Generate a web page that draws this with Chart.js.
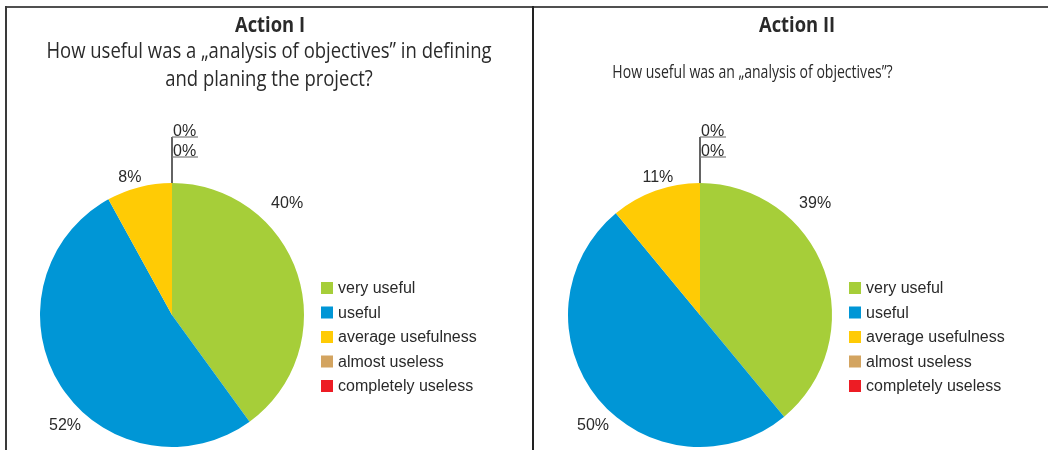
<!DOCTYPE html>
<html>
<head>
<meta charset="utf-8">
<script src="https://cdn.jsdelivr.net/npm/chart.js@4.4.1/dist/chart.umd.min.js"></script>
<style>
  html, body { margin: 0; padding: 0; background: #fff; }
  #wrap { position: relative; width: 1048px; height: 450px; overflow: hidden; }
  #wrap canvas { position: absolute; top: 0; }
  .rule { position: absolute; background: #505050; }
</style>
</head>
<body>
<div id="wrap">
  <div class="rule" style="left:5px; top:6px; width:1043px; height:2px;"></div>
  <div class="rule" style="left:5px; top:6px; width:2px; height:444px; background:#3a3a3a;"></div>
  <div class="rule" style="left:532px; top:6px; width:2px; height:444px; background:#222;"></div>
  <canvas id="actionOne" width="533" height="450" style="left:0;"></canvas>
  <canvas id="actionTwo" width="515" height="450" style="left:533px;"></canvas>
</div>
<script>
// Survey answers (percent of respondents)
const categories = ['very useful', 'useful', 'average usefulness', 'almost useless', 'completely useless'];
const actionOneValues = [40, 52, 8, 0, 0];
const actionTwoValues = [39, 50, 11, 0, 0];

const panelTitles = ['Action I', 'Action II'];
const panelQuestions = [
  ['How useful was a \u201Eanalysis of objectives\u201D in defining', 'and planing the project?'],
  ['How useful was an \u201Eanalysis of objectives\u201D?']
];

const sliceColors = ['#A6CE39', '#0096D6', '#FFCB05', '#D3A460', '#ED1C24'];

const TEXT = '#2a2a2a';
const LABEL_FONT = '16px "Liberation Sans", Arial, sans-serif';
const LEGEND_FONT = '16px "Liberation Sans", Arial, sans-serif';
const HEAD_FAMILY = '"Open Sans", "Noto Sans", sans-serif';

// Heading + question text above each pie (condensed by a horizontal squeeze)
const headingPlugin = {
  id: 'heading',
  afterDraw(chart, args, opts) {
    const ctx = chart.ctx;
    const drawLine = (text, x, y, font, squeeze) => {
      ctx.save();
      ctx.font = font;
      ctx.fillStyle = TEXT;
      ctx.textAlign = 'center';
      ctx.textBaseline = 'alphabetic';
      ctx.translate(x, y);
      ctx.scale(squeeze, 1);
      ctx.fillText(text, 0, 0);
      ctx.restore();
    };
    drawLine(opts.title, opts.titleX, opts.titleY, 'bold 21px ' + HEAD_FAMILY, 0.875);
    opts.lines.forEach((line, i) => {
      drawLine(line, opts.lineX, opts.lineY + i * opts.lineGap,
        opts.lineSize + 'px ' + HEAD_FAMILY, opts.lineSqueeze);
    });
  }
};

// Percentage labels around the pie; empty answers are stacked above the top with a leader
const percentPlugin = {
  id: 'percentLabels',
  afterDatasetsDraw(chart, args, opts) {
    const ctx = chart.ctx;
    const meta = chart.getDatasetMeta(0);
    const values = chart.data.datasets[0].data;
    const first = meta.data[0];
    const cx = first.x, cy = first.y, r = first.outerRadius;
    ctx.save();
    ctx.font = LABEL_FONT;
    ctx.fillStyle = TEXT;
    ctx.textAlign = 'center';
    ctx.textBaseline = 'middle';
    let spot = 0;
    const empty = [];
    values.forEach((v, i) => {
      if (v === 0) { empty.push(i); return; }
      const [deg, dist] = opts.spots[spot++];
      const a = deg * Math.PI / 180;
      ctx.fillText(v + '%', cx + Math.sin(a) * dist, cy - Math.cos(a) * dist);
    });
    if (empty.length) {
      const top = cy - r;
      const step = 20;
      const highest = top - 26 - (empty.length - 1) * step;
      ctx.strokeStyle = '#222';
      ctx.lineWidth = 1.4;
      ctx.beginPath();
      ctx.moveTo(cx, top);
      ctx.lineTo(cx, highest);
      ctx.stroke();
      ctx.textAlign = 'left';
      ctx.textBaseline = 'alphabetic';
      empty.forEach((idx, k) => {
        const y = highest + k * step;
        ctx.strokeStyle = '#7a7a7a';
        ctx.lineWidth = 1.2;
        ctx.beginPath();
        ctx.moveTo(cx, y);
        ctx.lineTo(cx + 26, y);
        ctx.stroke();
        ctx.fillText(values[idx] + '%', cx + 1, y - 1.5);
      });
    }
    ctx.restore();
  }
};

// Legend column to the right of the pie
const legendPlugin = {
  id: 'sideLegend',
  afterDraw(chart) {
    const ctx = chart.ctx;
    const first = chart.getDatasetMeta(0).data[0];
    const x = first.x + first.outerRadius + 17;
    const y0 = first.y - 27;
    const colors = chart.data.datasets[0].backgroundColor;
    ctx.save();
    ctx.font = LEGEND_FONT;
    ctx.textBaseline = 'middle';
    chart.data.labels.forEach((lab, i) => {
      const y = y0 + i * 24.5;
      ctx.fillStyle = colors[i];
      ctx.fillRect(x, y - 6, 12, 12);
      ctx.fillStyle = TEXT;
      ctx.fillText(lab, x + 17, y + 1);
    });
    ctx.restore();
  }
};

function makePie(id, values, padding, heading) {
  return new Chart(document.getElementById(id), {
    type: 'pie',
    data: {
      labels: categories,
      datasets: [{
        data: values,
        backgroundColor: sliceColors,
        borderWidth: 0
      }]
    },
    options: {
      responsive: false,
      maintainAspectRatio: false,
      animation: false,
      rotation: 0,
      layout: { padding },
      plugins: {
        legend: { display: false },
        tooltip: { enabled: false },
        heading,
        percentLabels: { spots: [[46, 160], [224, 154], [343, 144]] }
      }
    },
    plugins: [headingPlugin, percentPlugin, legendPlugin]
  });
}

makePie('actionOne', actionOneValues, { left: 40, right: 229, top: 183, bottom: 3 }, {
  title: panelTitles[0], titleX: 270, titleY: 31.5,
  lines: panelQuestions[0], lineX: 269, lineY: 57.5, lineGap: 28.5,
  lineSize: 21, lineSqueeze: 0.88
});
makePie('actionTwo', actionTwoValues, { left: 35, right: 216, top: 183, bottom: 3 }, {
  title: panelTitles[1], titleX: 264, titleY: 31.5,
  lines: panelQuestions[1], lineX: 219.5, lineY: 77.5, lineGap: 28.5,
  lineSize: 18, lineSqueeze: 0.78
});
</script>
</body>
</html>
